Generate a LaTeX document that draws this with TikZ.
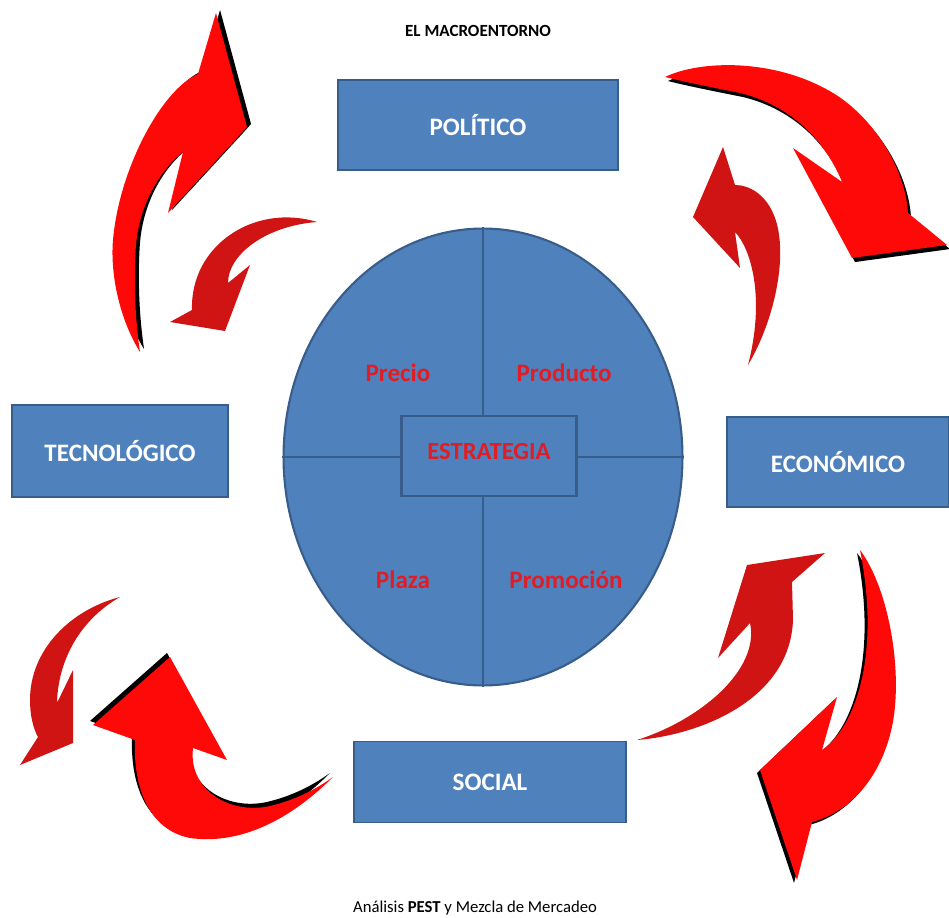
\documentclass[tikz,border=0pt]{standalone}
\usepackage{fontspec}
\setmainfont{Carlito}
\usetikzlibrary{shapes.geometric}
\definecolor{boxblue}{RGB}{79,129,189}
\definecolor{boxline}{RGB}{56,93,138}
\definecolor{txtred}{RGB}{225,28,36}
\definecolor{swred}{RGB}{255,8,8}
\definecolor{swdark}{RGB}{208,20,20}
\begin{document}
\begin{tikzpicture}[x=0.02cm, y=-0.02cm]
	\tikzset{pest/.style={draw=boxline, line width=1pt, fill=boxblue, text=white, font=\fontsize{14.3}{17}\selectfont\bfseries, minimum height=1.8cm}}
	\tikzset{mix/.style={ellipse, draw=boxline, line width=1.2pt, fill=boxblue, inner sep=0pt, minimum width=7.98cm, minimum height=9.14cm}}
	\tikzset{core/.style={draw=boxline, line width=1.2pt, fill=boxblue, text=txtred, font=\fontsize{14}{17}\selectfont\bfseries, minimum width=3.5cm, minimum height=1.6cm, text depth=0.2cm}}
	\tikzset{quad/.style={text=txtred, font=\fontsize{14.3}{17}\selectfont\bfseries}}
	\tikzset{swoosh/.style={fill=swred}, swooshdark/.style={fill=swdark}}
	\tikzset{dropblack/.style={preaction={fill=black, transform canvas={shift={#1}}}}}
	\useasboundingbox (0,0) rectangle (949,918);

	% curved arrows round the mix
	\fill[swoosh, dropblack={(2.3pt,1.7pt)}] (140,352) .. controls (120,320) and (110,275) .. (113,240)
		.. controls (119,170) and (161,90) .. (198,74) -- (216,13) -- (247,127) -- (238,137) -- (168,213) -- (183,152)
		.. controls (163,168) and (140,200) .. (136,245) .. controls (133,285) and (136,325) .. (140,352) -- cycle;
	\fill[swooshdark] (317,222) .. controls (255,203) and (190,245) .. (192,310) -- (170,322) -- (225,331) -- (250,265) -- (228,283)
		.. controls (228,255) and (265,226) .. (317,222) -- cycle;
	\fill[swoosh, dropblack={(1.7pt,-2.3pt)}] (665,77) .. controls (700,60) and (775,58) .. (833,93)
		.. controls (870,115) and (905,165) .. (908,213) -- (947,245) -- (852,258) -- (793,148) -- (842,182)
		.. controls (825,140) and (790,105) .. (740,93) .. controls (710,87) and (685,82) .. (665,77) -- cycle;
	\fill[swooshdark] (748,365) .. controls (775,320) and (790,250) .. (773,213) .. controls (765,195) and (750,185) .. (735,185)
		-- (723,147) -- (693,217) -- (740,268) -- (735,232) .. controls (752,250) and (765,300) .. (748,365) -- cycle;
	\fill[swoosh, dropblack={(-1.7pt,-1.7pt)}] (860,550) .. controls (890,590) and (905,680) .. (890,735)
		.. controls (875,790) and (840,815) .. (812,822) -- (797,880) -- (760,770) -- (837,697) -- (822,750)
		.. controls (858,725) and (880,650) .. (860,550) -- cycle;
	\fill[swooshdark] (637,740) .. controls (700,735) and (790,700) .. (793,620) -- (792,582) -- (825,553) -- (747,565) -- (718,658) -- (750,623)
		.. controls (760,670) and (700,720) .. (637,740) -- cycle;
	\fill[swoosh, dropblack={(-1.7pt,2.3pt)}] (333,777) .. controls (290,820) and (240,845) .. (190,838)
		.. controls (150,830) and (133,790) .. (135,740) -- (93,725) -- (170,657) -- (227,760) -- (193,748)
		.. controls (188,790) and (230,815) .. (270,806) .. controls (295,800) and (315,790) .. (333,777) -- cycle;
	\fill[swooshdark] (120,597) .. controls (70,610) and (30,650) .. (30,700) .. controls (30,715) and (33,728) .. (38,737)
		-- (20,765) -- (73,743) -- (73,670) -- (57,703) .. controls (58,660) and (80,620) .. (120,597) -- cycle;

	\node[font=\fontsize{9.7}{12}\selectfont\bfseries]	(title)	at (478,31)		{EL MACROENTORNO};
	\node[pest, minimum width=5.6cm]					(pol)	at (478,125)	{POLÍTICO};
	\node[pest, minimum width=4.32cm, minimum height=1.84cm]	(tec)	at (120,451)	{TECNOLÓGICO};
	\node[pest, minimum width=4.44cm]					(eco)	at (838,462)	{ECONÓMICO};
	\node[pest, minimum width=5.44cm, minimum height=1.62cm]	(soc)	at (490,782)	{SOCIAL};
	\node[mix]		(mix)		at (483,457)	{};
	\path[draw=boxline, line width=1.2pt]
		(mix.north) -- (mix.south)
		(mix.west) -- (mix.east);
	\node[core]		(est)		at (489,456)	{ESTRATEGIA};
	\node[quad]		(precio)	at (398,373)	{Precio};
	\node[quad]		(prod)		at (564,373)	{Producto};
	\node[quad]		(plaza)		at (403,580)	{Plaza};
	\node[quad]		(promo)		at (566,580)	{Promoción};
	\node[font=\fontsize{9.5}{12}\selectfont]		(pie)	at (475,908)	{Análisis \textbf{PEST} y Mezcla de Mercadeo};
\end{tikzpicture}
\end{document}
